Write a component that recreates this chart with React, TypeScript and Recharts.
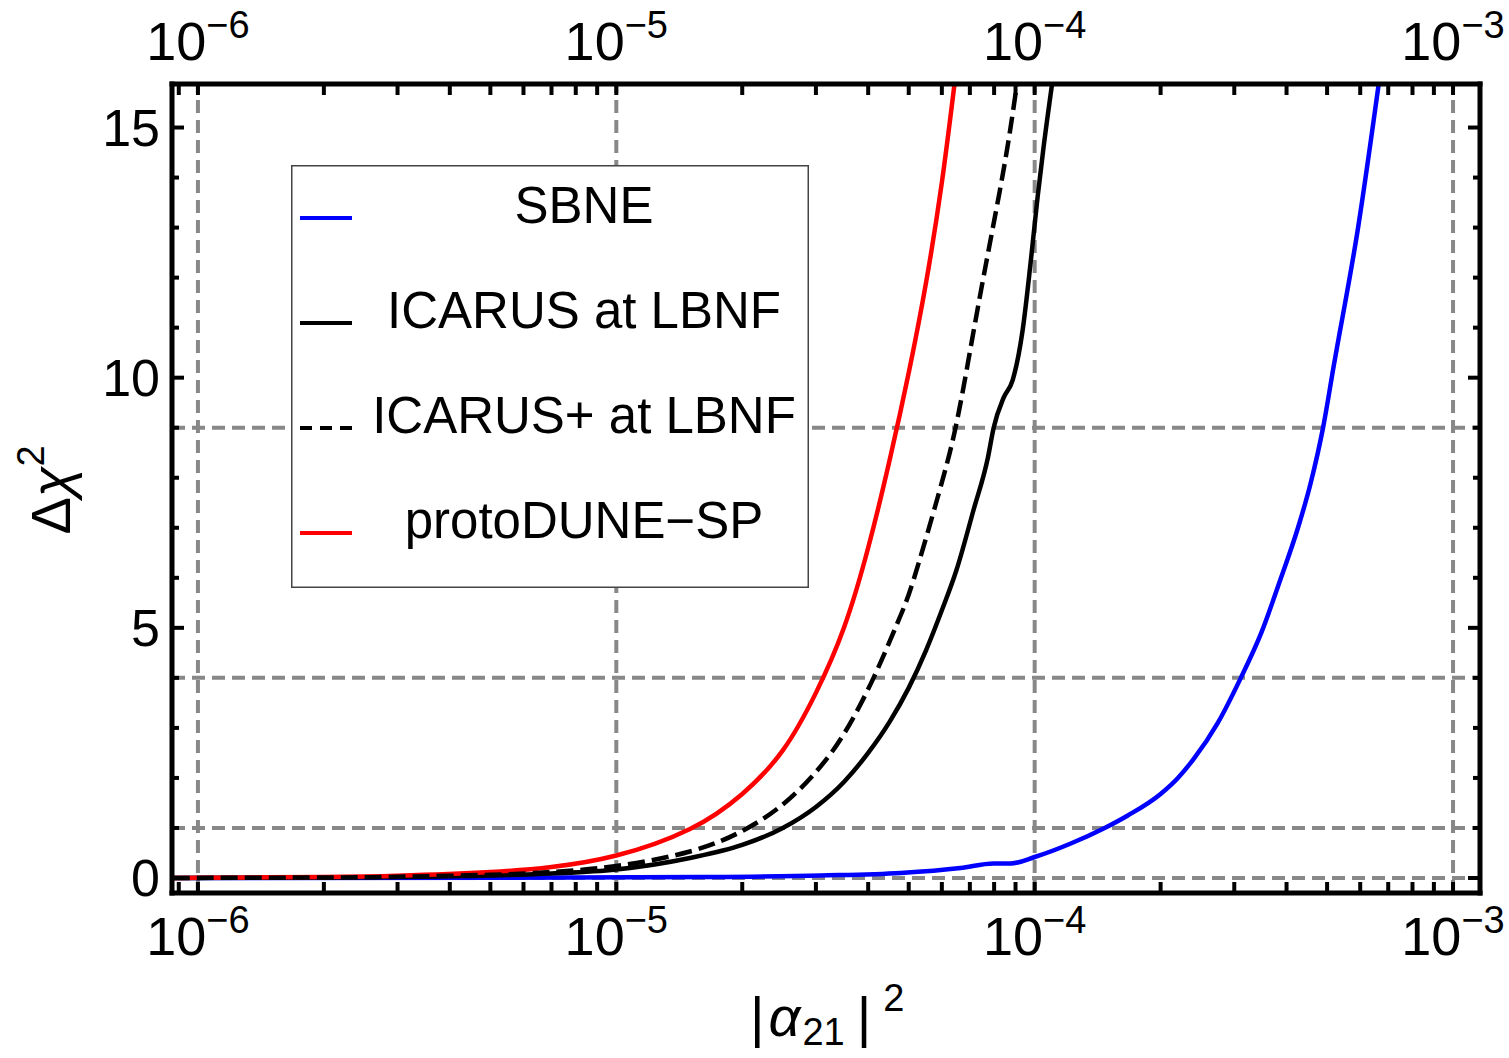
import React from "react";
import { LineChart, Line, XAxis, YAxis, ReferenceLine, Legend, Label } from "recharts";

const FONT = "'Liberation Sans', Arial, Helvetica, sans-serif";

// |alpha_21|^2 (x) and delta chi^2 (y)
const sbneMix = [8.7e-7, 5.3e-6, 1.59e-5, 3.08e-5, 4.78e-5, 6.65e-5, 7.98e-5, 8.77e-5, 1.0e-4, 1.22e-4, 1.47e-4, 1.67e-4, 2.0e-4, 2.2e-4, 2.4e-4, 2.74e-4, 3.11e-4, 3.48e-4, 3.88e-4, 4.26e-4, 4.57e-4, 4.89e-4, 5.19e-4, 5.93e-4, 6.65e-4];
const sbneChi = [0, 0.005, 0.02, 0.05, 0.1, 0.2, 0.29, 0.29, 0.42, 0.69, 1.0, 1.25, 1.68, 2.0, 2.38, 3.1, 4.0, 4.9, 6.0, 7.0, 7.9, 9.0, 10.25, 13.0, 15.9];

const icarusMix = [8.7e-7, 2e-6, 3e-6, 5e-6, 7e-6, 1e-5, 1.5e-5, 2e-5, 2.5e-5, 3e-5, 3.5e-5, 4e-5, 4.5e-5, 5e-5, 5.5e-5, 6e-5, 6.5e-5, 7.14e-5, 7.73e-5, 7.98e-5, 8.43e-5, 8.86e-5, 9.36e-5, 9.78e-5, 1.016e-4, 1.05e-4, 1.104e-4];
const icarusChi = [0, 0.01, 0.02, 0.05, 0.09, 0.17, 0.4, 0.66, 1.0, 1.42, 1.92, 2.5, 3.12, 3.8, 4.55, 5.35, 6.15, 7.35, 8.4, 9.0, 9.6, 9.95, 10.95, 12.3, 13.6, 14.6, 15.95];

const icarusPlusMix = [8.7e-7, 2e-6, 3e-6, 5e-6, 7e-6, 1e-5, 1.5e-5, 2e-5, 2.5e-5, 3e-5, 3.5e-5, 4.12e-5, 4.7e-5, 5.13e-5, 5.86e-5, 6.47e-5, 7.03e-5, 7.62e-5, 8.26e-5, 8.72e-5, 9.1e-5];
const icarusPlusChi = [0, 0.01, 0.025, 0.065, 0.12, 0.24, 0.53, 0.94, 1.47, 2.12, 2.88, 4.0, 5.1, 5.95, 7.6, 9.0, 10.6, 12.2, 13.75, 14.9, 15.95];

const protoDuneMix = [8.7e-7, 1e-6, 2e-6, 3e-6, 5e-6, 7e-6, 1e-5, 1.5e-5, 2e-5, 2.5e-5, 3e-5, 3.5e-5, 4e-5, 4.5e-5, 5e-5, 5.5e-5, 6e-5, 6.45e-5];
const protoDuneChi = [0, 0.005, 0.02, 0.045, 0.12, 0.22, 0.45, 0.98, 1.68, 2.55, 3.7, 5.0, 6.6, 8.35, 10.1, 11.9, 13.9, 15.95];

const X_MIN = 8.67e-7;
const X_MAX = 1.16e-3;
const Y_MIN = -0.3;
const Y_MAX = 15.87;

const decadeTicks = [1e-6, 1e-5, 1e-4, 1e-3];
const minorSteps = [2, 3, 4, 5, 6, 7, 8, 9];
const xTicks = [9e-7, ...decadeTicks.flatMap((d) => [d, ...minorSteps.map((m) => m * d)])].filter(
  (v) => v <= X_MAX
);
const yTicks = [0, 1, 2, 3, 4, 5, 6, 7, 8, 9, 10, 11, 12, 13, 14, 15];
const gridX = decadeTicks;
const gridY = [0, 1, 4, 9];

const legendOrder = ["SBNE", "ICARUS at LBNF", "ICARUS+ at LBNF", "protoDUNE\u2212SP"];

const toPoints = (xs: number[], ys: number[]) => xs.map((x, i) => ({ x, y: ys[i] }));

// draw order: blue, black, red, dashed on top
const series = [
  { name: "SBNE", color: "#0000ff", dash: undefined, curve: "monotone", data: toPoints(sbneMix, sbneChi) },
  { name: "ICARUS at LBNF", color: "#000000", dash: undefined, curve: "monotone", data: toPoints(icarusMix, icarusChi) },
  { name: "protoDUNE\u2212SP", color: "#ff0000", dash: undefined, curve: "natural", data: toPoints(protoDuneMix, protoDuneChi) },
  { name: "ICARUS+ at LBNF", color: "#000000", dash: "17 7", curve: "natural", data: toPoints(icarusPlusMix, icarusPlusChi) },
];

function XTick(props: any) {
  const { x, y, payload, side } = props;
  const v = payload.value;
  const exp = Math.round(Math.log10(v));
  const isDecade = Math.abs(Math.log10(v) - exp) < 1e-6;
  const inward = side === "bottom" ? -1 : 1;
  const labelY = side === "bottom" ? y + 62 : y - 24;
  return (
    <g>
      <line x1={x} x2={x} y1={y} y2={y + inward * 11} stroke="#000" strokeWidth={4} />
      {isDecade && (
        <text x={x} y={labelY} textAnchor="middle" fontFamily={FONT} fontSize={54} fill="#000">
          10
          <tspan dy={-22} fontSize={38}>
            {"\u2212" + Math.abs(exp)}
          </tspan>
        </text>
      )}
    </g>
  );
}

function YTick(props: any) {
  const { x, y, payload, side } = props;
  const v = payload.value;
  const major = v % 5 === 0;
  const inward = side === "left" ? 1 : -1;
  return (
    <g>
      <line x1={x} x2={x + inward * (major ? 12 : 7)} y1={y} y2={y} stroke="#000" strokeWidth={4} />
      {side === "left" && major && (
        <text x={x - 12} y={y + 18} textAnchor="end" fontFamily={FONT} fontSize={52} fill="#000">
          {v}
        </text>
      )}
    </g>
  );
}

function LegendBox(props: any) {
  const payload = [...(props.payload || [])].sort(
    (a: any, b: any) => legendOrder.indexOf(a.value) - legendOrder.indexOf(b.value)
  );
  return (
    <svg width={518} height={423} style={{ display: "block" }}>
      <rect x={0.75} y={0.75} width={516.5} height={421.5} fill="#fff" stroke="#444" strokeWidth={1.5} />
      {payload.map((e: any, i: number) => {
        const cy = 53 + i * 105;
        const dashed = e.payload && e.payload.strokeDasharray;
        return (
          <g key={e.value}>
            <line
              x1={9}
              x2={61}
              y1={cy}
              y2={cy}
              stroke={e.color}
              strokeWidth={4}
              strokeDasharray={dashed ? "12 8" : undefined}
            />
            <text x={293} y={cy + 5} textAnchor="middle" fontFamily={FONT} fontSize={51} fill="#000">
              {e.value}
            </text>
          </g>
        );
      })}
    </svg>
  );
}

const XTitle = () => (
  <text x={750} y={1036} fontFamily={FONT} fontSize={56} fill="#000">
    |<tspan fontStyle="italic" dx={4}>α</tspan>
    <tspan fontSize={38} dy={9} dx={2}>21</tspan>
    <tspan dy={-9} dx={12}>|</tspan>
    <tspan fontSize={38} dy={-25} dx={12}>2</tspan>
  </text>
);

const YTitle = () => (
  <text
    transform="rotate(-90 70 490)"
    x={70}
    y={490}
    textAnchor="middle"
    fontFamily={FONT}
    fontSize={56}
    fill="#000"
  >
    Δ<tspan fontStyle="italic">χ</tspan>
    <tspan dy={-26} fontSize={38}>2</tspan>
  </text>
);

export default function App() {
  const axisLine = { stroke: "#000", strokeWidth: 5, strokeLinecap: "square" as const };
  return (
    <div style={{ position: "absolute", left: 0, top: 0, width: 1509, height: 1058, background: "#fff" }}>
      <LineChart width={1509} height={1058} margin={{ top: 83, right: 28, bottom: 164, left: 171 }}>
        <XAxis
          dataKey="x"
          type="number"
          scale="log"
          domain={[X_MIN, X_MAX]}
          allowDataOverflow
          ticks={xTicks}
          interval={0}
          height={1}
          tickSize={0}
          tickMargin={0}
          tickLine={false}
          axisLine={axisLine}
          tick={(p: any) => <XTick {...p} side="bottom" />}
        >
          <Label content={() => <XTitle />} />
        </XAxis>
        <XAxis
          xAxisId="top"
          orientation="top"
          dataKey="x"
          type="number"
          scale="log"
          domain={[X_MIN, X_MAX]}
          allowDataOverflow
          ticks={xTicks}
          interval={0}
          height={1}
          tickSize={0}
          tickMargin={0}
          tickLine={false}
          axisLine={axisLine}
          tick={(p: any) => <XTick {...p} side="top" />}
        />
        <YAxis
          type="number"
          domain={[Y_MIN, Y_MAX]}
          allowDataOverflow
          ticks={yTicks}
          interval={0}
          width={1}
          tickSize={0}
          tickMargin={0}
          tickLine={false}
          axisLine={axisLine}
          tick={(p: any) => <YTick {...p} side="left" />}
        >
          <Label content={() => <YTitle />} />
        </YAxis>
        <YAxis
          yAxisId="right"
          orientation="right"
          type="number"
          domain={[Y_MIN, Y_MAX]}
          allowDataOverflow
          ticks={yTicks}
          interval={0}
          width={1}
          tickSize={0}
          tickMargin={0}
          tickLine={false}
          axisLine={axisLine}
          tick={(p: any) => <YTick {...p} side="right" />}
        />
        {gridX.map((v) => (
          <ReferenceLine key={"gx" + v} x={v} stroke="#888" strokeWidth={4} strokeDasharray="13 7" />
        ))}
        {gridY.map((v) => (
          <ReferenceLine key={"gy" + v} y={v} stroke="#888" strokeWidth={4} strokeDasharray="13 7" />
        ))}
        {series.map((s) => (
          <Line
            key={s.name}
            name={s.name}
            data={s.data}
            dataKey="y"
            type={s.curve as any}
            stroke={s.color}
            strokeWidth={4.5}
            strokeDasharray={s.dash}
            dot={false}
            activeDot={false}
            isAnimationActive={false}
          />
        ))}
        <Legend
          layout="vertical"
          align="center"
          verticalAlign="middle"
          wrapperStyle={{ left: 291, top: 165, width: 518, height: 423 }}
          content={LegendBox}
        />
      </LineChart>
    </div>
  );
}
